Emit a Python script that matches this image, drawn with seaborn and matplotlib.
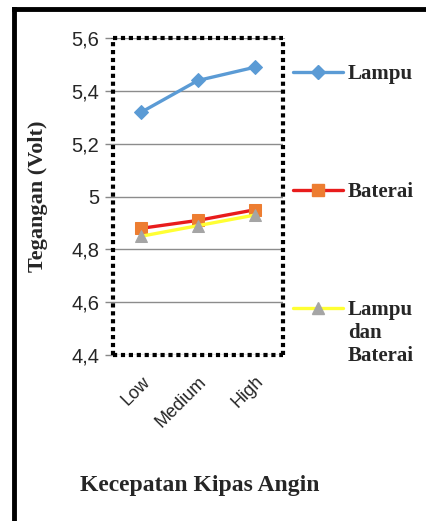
import matplotlib
matplotlib.use("Agg")
import matplotlib.pyplot as plt
import seaborn as sns
import pandas as pd
from matplotlib.lines import Line2D

categories = ["Low", "Medium", "High"]
lampu = [5.32, 5.44, 5.49]
baterai = [4.88, 4.91, 4.95]
lampu_baterai = [4.85, 4.89, 4.93]
yticks = [4.4, 4.6, 4.8, 5.0, 5.2, 5.4, 5.6]
ytick_labels = ["4,4", "4,6", "4,8", "5", "5,2", "5,4", "5,6"]

sns.set_style("white")
serif = ["Liberation Serif", "DejaVu Serif"]
sans = ["Liberation Sans", "DejaVu Sans"]

fig = plt.figure(figsize=(4.27, 5.21), dpi=100)
ax = fig.add_axes([0.2646, 0.3186, 0.398, 0.608])

x = list(range(len(categories)))
series = [
    ("Lampu", lampu, "#5b9bd5", "D", "#5b9bd5", 7),
    ("Baterai", baterai, "#e81c1c", "s", "#ed7d31", 8),
    ("Lampu dan Baterai", lampu_baterai, "#ffff33", "^", "#a5a5a5", 8),
]
for name, vals, lc, mk, mc, ms in series:
    df = pd.DataFrame({"x": x, "y": vals})
    sns.lineplot(data=df, x="x", y="y", ax=ax, color=lc, linewidth=2.4,
                 marker=mk, markersize=ms, markerfacecolor=mc,
                 markeredgecolor=mc, legend=False)

ax.set_xlim(-0.5, 2.5)
ax.set_ylim(4.4, 5.6)
ax.set_yticks(yticks)
ax.set_yticklabels(ytick_labels, fontfamily=sans, fontsize=14.5)
ax.set_xticks(x)
ax.set_xticklabels(categories, fontfamily=sans, fontsize=13, rotation=45,
                   ha="right", rotation_mode="anchor")
ax.tick_params(axis="x", length=0, pad=13)
ax.tick_params(axis="y", length=6, width=1, color="#888888", left=True, pad=4)
ax.grid(axis="y", color="#8c8c8c", linewidth=1)
ax.set_axisbelow(True)
for s in ax.spines.values():
    s.set_visible(True)
    s.set_color("black")
    s.set_linewidth(3.0)
    s.set_linestyle((0, (1, 0.9)))
    s.set_capstyle("butt")
ax.set_xlabel("")
ax.set_ylabel("Tegangan (Volt)", fontfamily=serif, fontweight="bold", fontsize=16)
ax.yaxis.set_label_coords(-0.38, 0.5)

fig.text(0.468, 0.069, "Kecepatan Kipas Angin", fontfamily=serif, fontweight="bold",
         fontsize=17, ha="center", va="center")

# manual legend
W, H = 427, 521
entries = [
    (72, "Lampu", series[0]),
    (190, "Baterai", series[1]),
    (308, "Lampu\ndan\nBaterai", series[2]),
]
for ypx, label, (_, _, lc, mk, mc, ms) in entries:
    yf = 1 - ypx / H
    fig.add_artist(Line2D([293 / W, 343 / W], [yf, yf], color=lc, linewidth=2.4,
                          transform=fig.transFigure))
    fig.add_artist(Line2D([318 / W], [yf], marker=mk, markersize=ms, color=mc,
                          markeredgecolor=mc, transform=fig.transFigure))
    fig.text(348 / W, yf + 0.016, label, fontfamily=serif, fontweight="bold",
             fontsize=15, ha="left", va="top", linespacing=1.2)

# outer border (left and top visible)
fig.add_artist(Line2D([14 / W, 14 / W], [0, 1 - 9 / H], color="black", linewidth=3.5,
                      transform=fig.transFigure, solid_capstyle="projecting"))
fig.add_artist(Line2D([14 / W, 1], [1 - 9 / H, 1 - 9 / H], color="black", linewidth=3.5,
                      transform=fig.transFigure, solid_capstyle="projecting"))

fig.savefig("out.png", dpi=100)
